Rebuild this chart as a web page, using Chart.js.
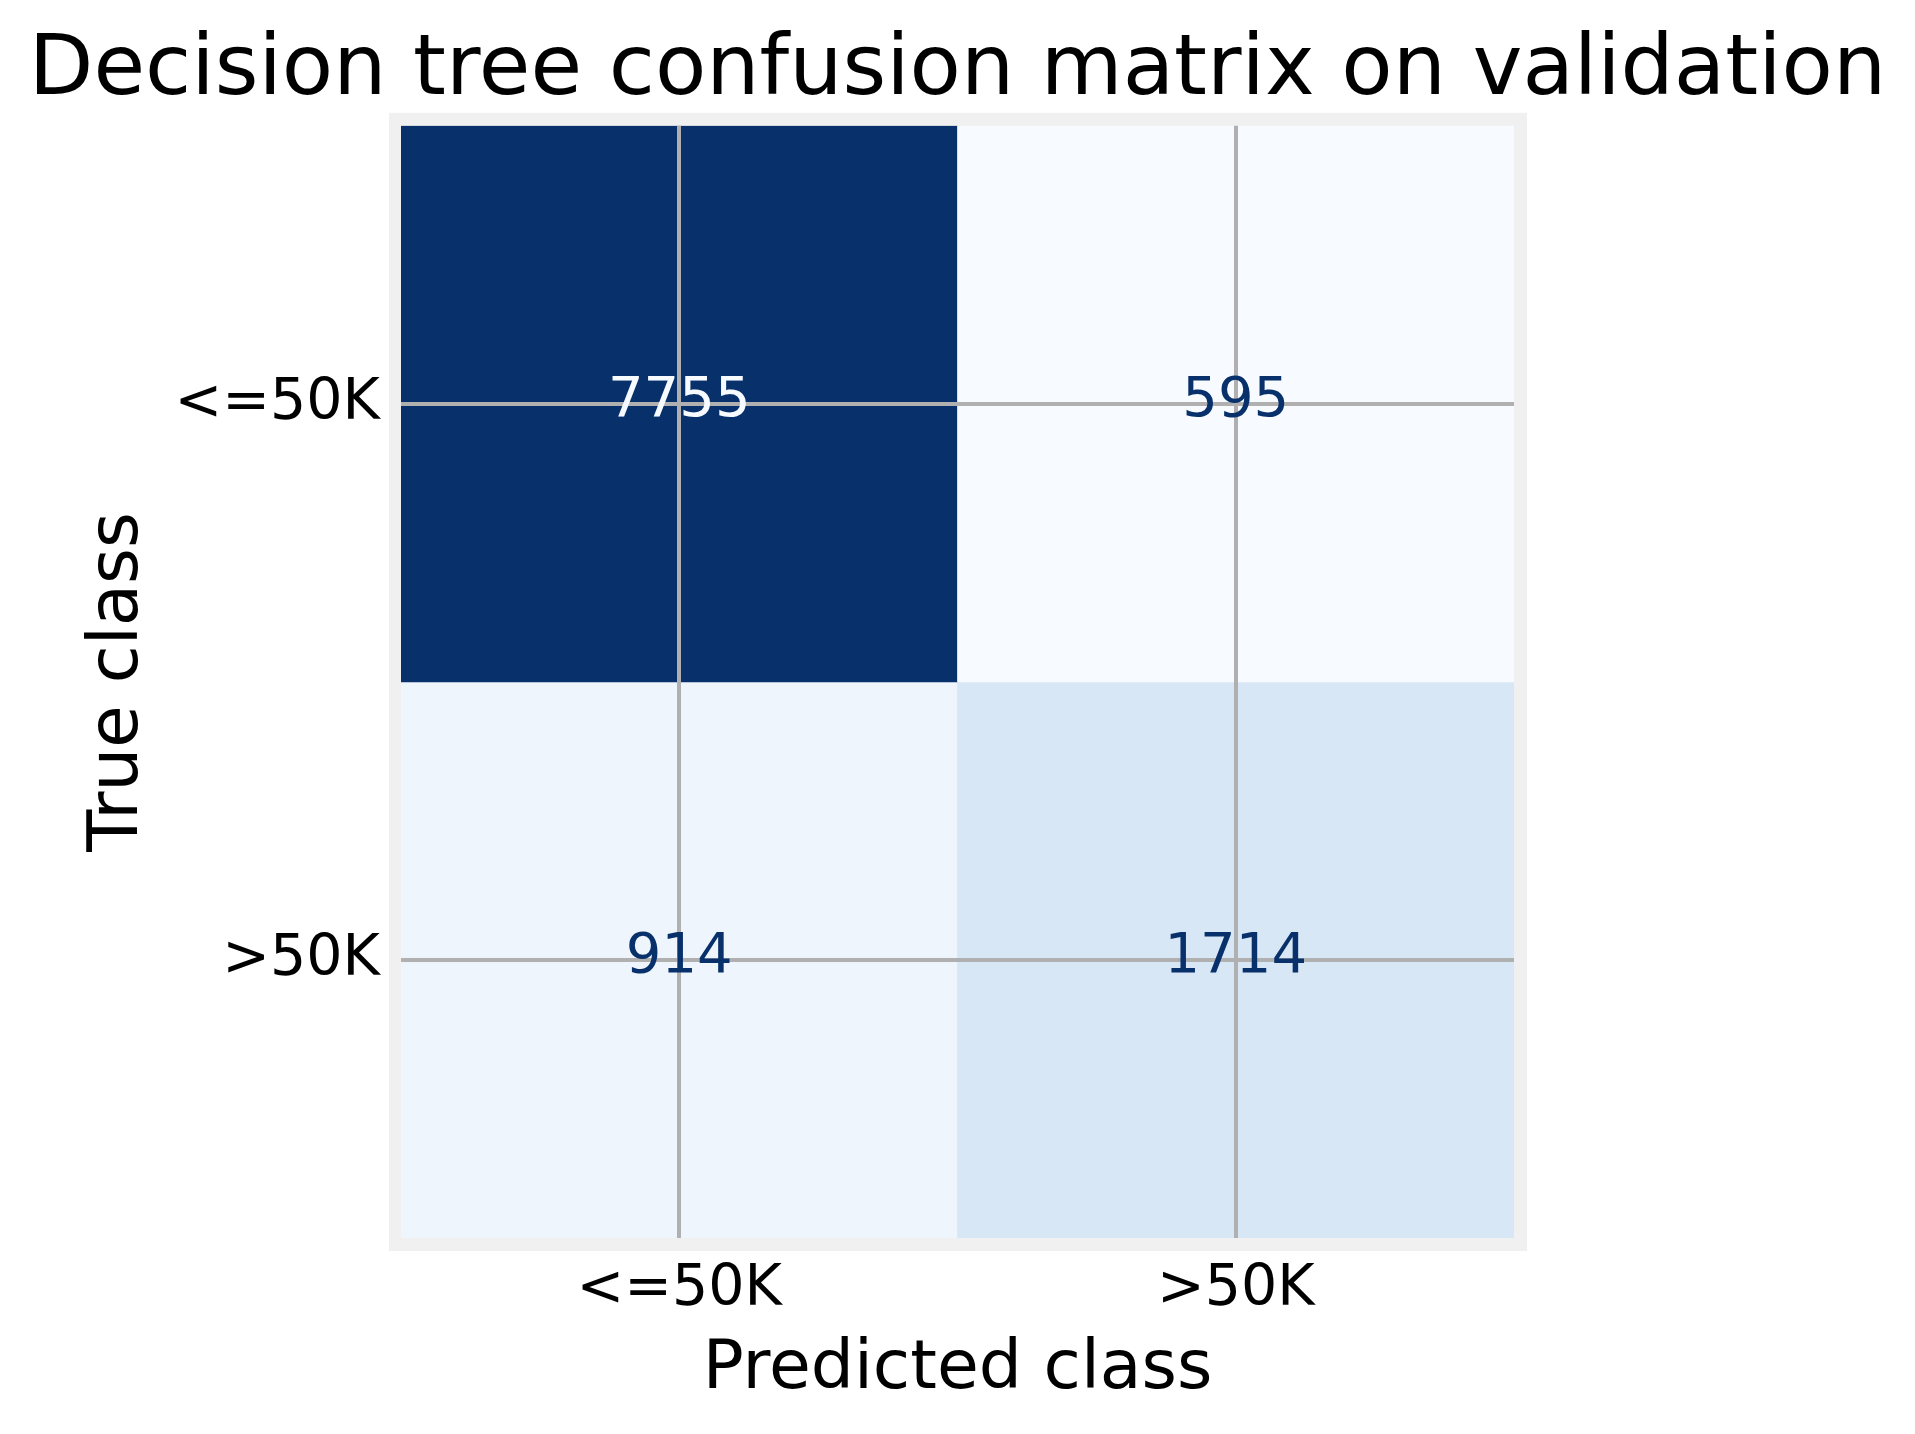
<!DOCTYPE html>
<html>
<head>
<meta charset="utf-8">
<script src="https://cdn.jsdelivr.net/npm/chart.js@4.4.0/dist/chart.umd.min.js"></script>
<style>
  body { margin: 0; background: #ffffff; }
</style>
</head>
<body>
<canvas id="cmChart" width="1915" height="1434"></canvas>
<script>
// confusion matrix data (rows = true class, cols = predicted class)
const predLabels = ['<=50K', '>50K'];
const trueLabels = ['<=50K', '>50K'];
const rowLE50 = [7755, 595];
const rowGT50 = [914, 1714];
const matrix = [rowLE50, rowGT50];

// matplotlib "Blues" anchors
const blues = ['#f7fbff', '#deebf7', '#c6dbef', '#9ecae1', '#6baed6', '#4292c6', '#2171b5', '#08519c', '#08306b'];

function hexToRgb(h) {
    return [parseInt(h.slice(1, 3), 16), parseInt(h.slice(3, 5), 16), parseInt(h.slice(5, 7), 16)];
}

function bluesColor(t) {
    t = Math.max(0, Math.min(1, t));
    const pos = t * (blues.length - 1);
    const i = Math.min(Math.floor(pos), blues.length - 2);
    const f = pos - i;
    const a = hexToRgb(blues[i]);
    const b = hexToRgb(blues[i + 1]);
    const c = a.map((v, k) => Math.round(v + (b[k] - v) * f));
    return 'rgb(' + c.join(',') + ')';
}

const allVals = matrix.flat();
const vMin = Math.min(...allVals);
const vMax = Math.max(...allVals);
const norm = v => (v - vMin) / (vMax - vMin);

const datasets = matrix.map((row, r) => ({
    label: trueLabels[r],
    data: row.map(() => [r - 0.5, r + 0.5]),
    backgroundColor: row.map(v => bluesColor(norm(v))),
    borderWidth: 0,
    grouped: false,
    barPercentage: 1,
    categoryPercentage: 1
}));

const frameAndLabels = {
    id: 'frameAndLabels',
    beforeDraw(chart) {
        const a = chart.chartArea;
        const ctx = chart.ctx;
        ctx.save();
        ctx.fillStyle = '#f0f0f0';
        ctx.fillRect(a.left - 12, a.top - 13, a.right - a.left + 25, a.bottom - a.top + 26);
        ctx.restore();
    },
    afterDraw(chart) {
        const ctx = chart.ctx;
        const xs = chart.scales.x;
        const ys = chart.scales.y;
        const thresh = (vMin + vMax) / 2;
        ctx.save();
        ctx.font = '56px "DejaVu Sans"';
        ctx.textAlign = 'center';
        ctx.textBaseline = 'middle';
        matrix.forEach((row, r) => {
            row.forEach((v, c) => {
                ctx.fillStyle = v > thresh ? blues[0] : blues[blues.length - 1];
                ctx.fillText(String(v), xs.getPixelForValue(c), ys.getPixelForValue(r) - 2);
            });
        });
        ctx.restore();
    }
};

const ctx = document.getElementById('cmChart').getContext('2d');
const cmChart = new Chart(ctx, {
    type: 'bar',
    data: {
        labels: predLabels,
        datasets: datasets
    },
    options: {
        responsive: false,
        devicePixelRatio: 1,
        animation: false,
        layout: {
            padding: 0
        },
        scales: {
            x: {
                type: 'category',
                offset: true,
                grid: {
                    offset: false,
                    color: '#b0b0b0',
                    lineWidth: 4,
                    drawTicks: false,
                    z: 1
                },
                border: { display: false },
                ticks: {
                    color: '#000000',
                    padding: 18,
                    font: { family: 'DejaVu Sans', size: 57 }
                },
                title: {
                    display: true,
                    text: 'Predicted class',
                    color: '#000000',
                    font: { family: 'DejaVu Sans', size: 68 },
                    padding: { top: 0, bottom: 23 }
                },
                afterFit(scale) { scale.height = 196; }
            },
            y: {
                type: 'linear',
                min: -0.5,
                max: 1.5,
                reverse: true,
                afterBuildTicks(scale) {
                    scale.ticks = trueLabels.map((_, i) => ({ value: i }));
                },
                grid: {
                    color: '#b0b0b0',
                    lineWidth: 4,
                    drawTicks: false,
                    z: 1
                },
                border: { display: false },
                ticks: {
                    color: '#000000',
                    padding: 21,
                    font: { family: 'DejaVu Sans', size: 57 },
                    callback: v => trueLabels[v]
                },
                title: {
                    display: true,
                    text: 'True class',
                    color: '#000000',
                    font: { family: 'DejaVu Sans', size: 69 },
                    padding: { top: 78, bottom: 0 }
                },
                afterFit(scale) { scale.width = 401; }
            },
            // empty right-hand spacer so the plot keeps its place
            yRight: {
                type: 'linear',
                position: 'right',
                display: true,
                grid: { display: false, drawOnChartArea: false },
                border: { display: false },
                ticks: { display: false },
                afterFit(scale) { scale.width = 401; }
            }
        },
        plugins: {
            legend: { display: false },
            tooltip: { enabled: false },
            title: {
                display: true,
                text: 'Decision tree confusion matrix on validation',
                color: '#000000',
                font: { family: 'DejaVu Sans', size: 84, weight: 'normal' },
                padding: { top: 22, bottom: 3 }
            }
        }
    },
    plugins: [frameAndLabels]
});
</script>
</body>
</html>
